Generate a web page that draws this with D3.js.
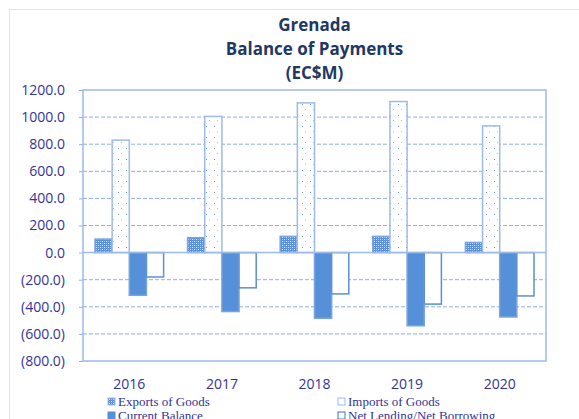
<!DOCTYPE html>
<html>
<head>
<meta charset="utf-8">
<script src="https://cdnjs.cloudflare.com/ajax/libs/d3/7.8.5/d3.min.js"></script>
<style>
  body { margin: 0; background: #fff; }
  svg { display: block; }
</style>
</head>
<body>
<div id="chart"></div>
<script>
// Data
var years = ["2016", "2017", "2018", "2019", "2020"];
var exportsGoods = [100, 110, 120, 120, 75];
var importsGoods = [830, 1005, 1105, 1115, 935];
var currentBalance = [-315, -435, -485, -540, -475];
var netLending = [-180, -260, -305, -380, -320];
var seriesNames = ["Exports of Goods", "Imports of Goods", "Current Balance", "Net Lending/Net Borrowing"];
var yTicks = [1200, 1000, 800, 600, 400, 200, 0, -200, -400, -600, -800];

var svgWidth = 579;
var svgHeight = 419;
var margin = { top: 90, right: 33, bottom: 58, left: 83 };
var width = svgWidth - margin.left - margin.right;
var height = svgHeight - margin.top - margin.bottom;

var svg = d3.select("#chart")
  .append("svg")
  .attr("width", svgWidth)
  .attr("height", svgHeight);

// patterns
var defs = svg.append("defs");
var hatch = defs.append("pattern")
  .attr("id", "hatch")
  .attr("width", 4).attr("height", 4)
  .attr("patternUnits", "userSpaceOnUse");
hatch.append("rect").attr("width", 4).attr("height", 4).attr("fill", "#5b8fd6");
hatch.append("rect").attr("x", 1).attr("y", 1).attr("width", 1).attr("height", 1).attr("fill", "#dbe7f8");
hatch.append("rect").attr("x", 3).attr("y", 3).attr("width", 1).attr("height", 1).attr("fill", "#dbe7f8");
hatch.append("rect").attr("x", 3).attr("y", 1).attr("width", 1).attr("height", 1).attr("fill", "#a9c4ec");
hatch.append("rect").attr("x", 1).attr("y", 3).attr("width", 1).attr("height", 1).attr("fill", "#a9c4ec");

var dots = defs.append("pattern")
  .attr("id", "dots")
  .attr("width", 8).attr("height", 11)
  .attr("patternUnits", "userSpaceOnUse");
dots.append("rect").attr("width", 8).attr("height", 11).attr("fill", "#fff");
dots.append("rect").attr("x", 3).attr("y", 3).attr("width", 1).attr("height", 1).attr("fill", "#6f9bdc");
dots.append("rect").attr("x", 6).attr("y", 8).attr("width", 1).attr("height", 1).attr("fill", "#a9c4ec");

// outer border
svg.append("rect")
  .attr("x", 9.5).attr("y", 9.5)
  .attr("width", 580).attr("height", 420)
  .attr("fill", "none")
  .attr("stroke", "#dbe5f1")
  .attr("stroke-width", 1);

// title
var titleLines = ["Grenada", "Balance of Payments", "(EC$M)"];
svg.append("g").selectAll("text")
  .data(titleLines)
  .enter()
  .append("text")
  .attr("x", margin.left + width / 2)
  .attr("y", (d, i) => 31 + i * 24)
  .attr("text-anchor", "middle")
  .style("font-family", "'Open Sans', 'Liberation Sans', sans-serif")
  .style("font-size", "17px")
  .style("font-weight", "bold")
  .style("fill", "#1f3864")
  .text(d => d);

var chartGroup = svg.append("g")
  .attr("transform", `translate(${margin.left}, ${margin.top})`);

var xBand = d3.scaleBand()
  .domain(years)
  .range([0, width]);

var yLinearScale = d3.scaleLinear()
  .domain([-800, 1200])
  .range([height, 0]);

// gridlines
chartGroup.append("g")
  .selectAll("line")
  .data(yTicks.filter(d => d !== 0 && d !== 1200 && d !== -800))
  .enter()
  .append("line")
  .attr("x1", 0).attr("x2", width)
  .attr("y1", d => yLinearScale(d))
  .attr("y2", d => yLinearScale(d))
  .attr("stroke", "#8fb0e3")
  .attr("stroke-width", 1)
  .attr("stroke-dasharray", "4,2");

// left axis
var leftAxis = d3.axisLeft(yLinearScale)
  .tickValues(yTicks)
  .tickSize(8)
  .tickPadding(10)
  .tickFormat(d => d < 0 ? "(" + d3.format(".1f")(-d) + ")" : d3.format(".1f")(d));
var yAxisG = chartGroup.append("g").call(leftAxis);
yAxisG.select(".domain").remove();
yAxisG.selectAll("line").attr("stroke", "#8fb0e3").attr("x1", -4).attr("x2", 0);
yAxisG.selectAll("text")
  .style("font-family", "'Open Sans', 'Liberation Sans', sans-serif")
  .style("font-size", "14px")
  .style("fill", "#333399");

// bars
var inner = d3.scaleBand()
  .domain(d3.range(4))
  .range([12, xBand.bandwidth() - 12]);

var series = [
  { values: exportsGoods, fill: "url(#hatch)", stroke: "#7aa3df" },
  { values: importsGoods, fill: "url(#dots)", stroke: "#9dbbe8" },
  { values: currentBalance, fill: "#5590d8", stroke: "#7aa3df" },
  { values: netLending, fill: "#ffffff", stroke: "#5b8fd6" }
];

series.forEach(function(s, si) {
  chartGroup.append("g")
    .selectAll("rect")
    .data(s.values)
    .enter()
    .append("rect")
    .attr("x", (d, i) => xBand(years[i]) + inner(si))
    .attr("width", inner.bandwidth())
    .attr("y", d => yLinearScale(Math.max(0, d)))
    .attr("height", d => Math.abs(yLinearScale(d) - yLinearScale(0)))
    .attr("fill", s.fill)
    .attr("stroke", s.stroke)
    .attr("stroke-width", 1.5);
});

// zero line and plot frame
chartGroup.append("line")
  .attr("x1", 0).attr("x2", width)
  .attr("y1", yLinearScale(0)).attr("y2", yLinearScale(0))
  .attr("stroke", "#9dbbe8")
  .attr("stroke-width", 1.5);

chartGroup.append("rect")
  .attr("x", 0).attr("y", 0)
  .attr("width", width).attr("height", height)
  .attr("fill", "none")
  .attr("stroke", "#9dbbe8")
  .attr("stroke-width", 1.5);

// year labels
chartGroup.append("g")
  .selectAll("text")
  .data(years)
  .enter()
  .append("text")
  .attr("x", d => xBand(d) + xBand.bandwidth() / 2)
  .attr("y", height + 28)
  .attr("text-anchor", "middle")
  .style("font-family", "'Open Sans', 'Liberation Sans', sans-serif")
  .style("font-size", "14px")
  .style("fill", "#333399")
  .text(d => d);

// legend
var legendPos = [[108, 406], [338, 406], [108, 420], [338, 420]];
var legendFills = ["url(#hatch)", "#ffffff", "#5590d8", "#ffffff"];
var legendStrokes = ["#9dbbe8", "#9dbbe8", "#5590d8", "#3f73c0"];
var legend = svg.append("g").selectAll("g")
  .data(seriesNames)
  .enter()
  .append("g")
  .attr("transform", (d, i) => `translate(${legendPos[i][0]}, ${legendPos[i][1]})`);
legend.append("rect")
  .attr("x", 0).attr("y", -8)
  .attr("width", 7).attr("height", 7)
  .attr("fill", (d, i) => legendFills[i])
  .attr("stroke", (d, i) => legendStrokes[i])
  .attr("stroke-width", 1);
legend.append("text")
  .attr("x", 10)
  .attr("y", 0)
  .style("font-family", "'Liberation Serif', 'DejaVu Serif', serif")
  .style("font-size", "13px")
  .style("fill", "#333399")
  .text(d => d);
</script>
</body>
</html>
